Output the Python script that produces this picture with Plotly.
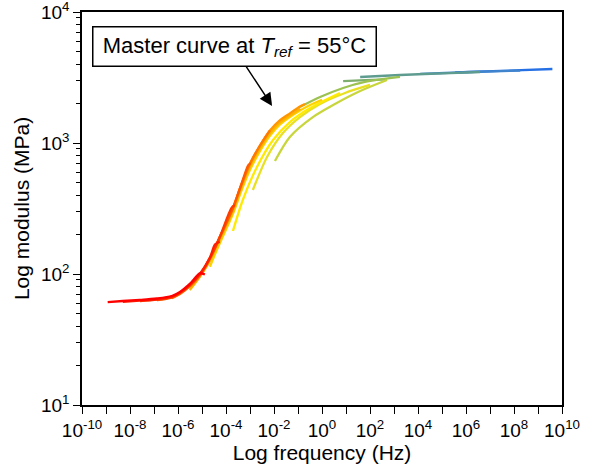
import plotly.graph_objects as go

# ---- data (log10 values) ----
seg_colors = ["#FF0000", "#FF1E00", "#FF3C00", "#FF5A00", "#FF7800", "#FF9600",
              "#FFB400", "#FFD200", "#FFEA00", "#E8E020", "#C8D63C", "#9CC252",
              "#7DAE6E", "#5E9C90", "#3F84CC", "#2670E6"]

s1_logf = [-8.93, -8.30, -7.59, -6.88, -6.26, -5.92, -5.51, -5.09, -4.88]
s1_logE = [1.786, 1.794, 1.802, 1.813, 1.832, 1.863, 1.924, 2.005, 1.996]
s2_logf = [-8.30, -7.59, -6.88, -6.26, -5.92, -5.51, -5.09, -4.67, -4.46, -4.26]
s2_logE = [1.787, 1.796, 1.807, 1.827, 1.858, 1.918, 2.000, 2.125, 2.225, 2.247]
s3_logf = [-7.59, -6.88, -6.26, -5.92, -5.51, -5.09, -4.67, -4.26, -3.77, -3.63]
s3_logE = [1.793, 1.805, 1.824, 1.856, 1.915, 1.997, 2.122, 2.283, 2.505, 2.527]
s4_logf = [-6.88, -6.26, -5.92, -5.51, -5.09, -4.67, -4.26, -3.71, -3.38, -3.07, -2.97]
s4_logE = [1.800, 1.820, 1.850, 1.910, 1.993, 2.120, 2.282, 2.505, 2.675, 2.830, 2.845]
s5_logf = [-6.26, -5.92, -5.51, -5.09, -4.67, -4.26, -3.71, -3.38, -3.00, -2.58, -2.17]
s5_logE = [1.816, 1.848, 1.908, 1.990, 2.118, 2.280, 2.503, 2.672, 2.843, 2.983, 3.097]
s6_logf = [-5.51, -5.09, -4.67, -4.26, -3.71, -3.38, -3.00, -2.58, -2.17, -1.76, -1.34, -0.90, -0.71]
s6_logE = [1.902, 1.985, 2.112, 2.276, 2.500, 2.670, 2.840, 2.980, 3.095, 3.172, 3.226, 3.280, 3.298]
s7_logf = [-5.51, -5.09, -4.67, -4.26, -3.71, -3.38, -3.00, -2.58, -2.17, -1.76, -1.34, -0.90]
s7_logE = [1.878, 1.979, 2.100, 2.262, 2.480, 2.650, 2.820, 2.960, 3.075, 3.155, 3.210, 3.262]
s8_logf = [-4.67, -4.46, -4.26, -3.71, -3.38, -3.00, -2.58, -2.17, -1.76, -1.34, -0.90, -0.50, 0.00]
s8_logE = [2.055, 2.150, 2.235, 2.460, 2.625, 2.795, 2.940, 3.055, 3.140, 3.198, 3.250, 3.290, 3.330]
s9_logf = [-3.71, -3.30, -2.71, -2.04, -1.34, -0.50, 0.75]
s9_logE = [2.328, 2.565, 2.817, 3.023, 3.160, 3.267, 3.382]
s10_logf = [-2.88, -2.29, -1.63, -0.92, -0.08, 0.96, 2.00]
s10_logE = [2.641, 2.893, 3.076, 3.198, 3.298, 3.382, 3.443]
s11_logf = [-1.96, -1.34, -0.38, 0.54, 1.59, 2.71]
s11_logE = [2.863, 3.046, 3.198, 3.298, 3.397, 3.481]
s12_logf = [-0.92, -0.08, 0.88, 1.79, 3.25]
s12_logE = [3.275, 3.351, 3.420, 3.466, 3.504]
s13_logf = [0.88, 1.80, 2.71]
s13_logE = [3.473, 3.480, 3.486]
s14_logf = [1.59, 3.25, 5.34, 6.59]
s14_logE = [3.504, 3.519, 3.534, 3.542]
s15_logf = [4.09, 6.17, 8.26]
s15_logE = [3.527, 3.542, 3.553]
s16_logf = [5.55, 7.43, 9.60]
s16_logE = [3.538, 3.550, 3.565]

x_tick_vals = [1e-10, 1e-9, 1e-8, 1e-7, 1e-6, 1e-5, 1e-4, 1e-3, 1e-2, 1e-1, 1e0,
               1e1, 1e2, 1e3, 1e4, 1e5, 1e6, 1e7, 1e8, 1e9, 1e10]
x_tick_text = ["10<sup>-10</sup>", "", "10<sup>-8</sup>", "", "10<sup>-6</sup>", "",
               "10<sup>-4</sup>", "", "10<sup>-2</sup>", "", "10<sup>0</sup>", "",
               "10<sup>2</sup>", "", "10<sup>4</sup>", "", "10<sup>6</sup>", "",
               "10<sup>8</sup>", "", "10<sup>10</sup>"]
y_tick_vals = [1e1, 1e2, 1e3, 1e4]
y_tick_text = ["10<sup>1</sup>", "10<sup>2</sup>", "10<sup>3</sup>", "10<sup>4</sup>"]

segments = [(s1_logf, s1_logE), (s2_logf, s2_logE), (s3_logf, s3_logE), (s4_logf, s4_logE),
            (s5_logf, s5_logE), (s6_logf, s6_logE), (s7_logf, s7_logE), (s8_logf, s8_logE),
            (s9_logf, s9_logE), (s10_logf, s10_logE), (s11_logf, s11_logE), (s12_logf, s12_logE),
            (s13_logf, s13_logE), (s14_logf, s14_logE), (s15_logf, s15_logE), (s16_logf, s16_logE)]

FONT = "Arial, Liberation Sans, sans-serif"

fig = go.Figure()
# draw so that the high-temperature (red) curves lie on top
order = list(range(len(segments)))[::-1]
for i in order:
    lf, le = segments[i]
    fig.add_trace(go.Scatter(
        x=[10 ** v for v in lf], y=[10 ** v for v in le], mode="lines",
        line=dict(color=seg_colors[i], width=2.3, shape="spline", smoothing=0.8),
        showlegend=False, hoverinfo="skip"))

axis_common = dict(showline=True, linecolor="black", linewidth=1.5, mirror=True,
                   showgrid=False, zeroline=False, ticks="outside", tickcolor="black",
                   tickwidth=1.2, ticklen=7, automargin=False, ticklabeloverflow="allow",
                   tickfont=dict(family=FONT, size=19, color="black"))

fig.update_xaxes(type="log", range=[-10, 10], tickvals=x_tick_vals, ticktext=x_tick_text,
                 title=dict(text="Log frequency (Hz)", font=dict(family=FONT, size=21, color="black"),
                            standoff=4),
                 **axis_common)
fig.update_yaxes(type="log", range=[1, 4], tickvals=y_tick_vals, ticktext=y_tick_text,
                 minor=dict(ticks="outside", ticklen=4, tickcolor="black", tickwidth=1.2,
                            tickvals=[k * 10 ** e for e in (1, 2, 3) for k in range(2, 10)]),
                 title=dict(text="Log modulus (MPa)", font=dict(family=FONT, size=21, color="black"),
                            standoff=6),
                 **axis_common)

fig.add_annotation(xref="paper", yref="paper", x=0.396, y=0.761, ax=-27, ay=-41,
                   axref="pixel", ayref="pixel", text="", showarrow=True,
                   arrowhead=2, arrowsize=1.7, arrowwidth=1.5, arrowcolor="black")
fig.add_annotation(xref="paper", yref="paper", x=0.318, y=0.912, xanchor="center", yanchor="middle",
                   text="Master curve at <i>T</i><sub><i>ref</i></sub> = 55°C", showarrow=False,
                   font=dict(family=FONT, size=22, color="black"), width=276, height=32,
                   bgcolor="white", bordercolor="black", borderwidth=1.5, borderpad=3)

fig.update_layout(width=593, height=471, margin=dict(l=82, r=31, t=12, b=66),
                  plot_bgcolor="white", paper_bgcolor="white")
fig.write_html("out.html", config={"displayModeBar": False},
               post_script="document.body.style.margin='0';document.body.style.overflow='hidden';")
